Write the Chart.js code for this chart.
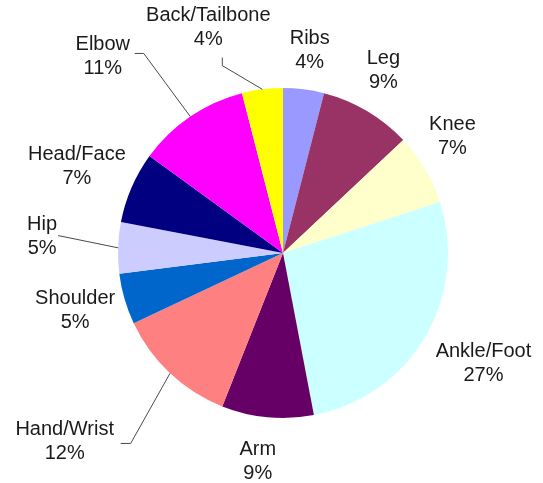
<!DOCTYPE html>
<html>
<head>
<meta charset="utf-8">
<script src="https://cdn.jsdelivr.net/npm/chart.js@4/dist/chart.umd.min.js"></script>
<style>
  html, body { margin: 0; padding: 0; background: #ffffff; }
  #wrap { width: 543px; height: 483px; position: relative; }
</style>
</head>
<body>
<div id="wrap"><canvas id="c" width="543" height="483"></canvas></div>
<script>
// ---- data ----
const categories = ["Ribs", "Leg", "Knee", "Ankle/Foot", "Arm", "Hand/Wrist", "Shoulder", "Hip", "Head/Face", "Elbow", "Back/Tailbone"];
const percentValues = [4, 9, 7, 27, 9, 12, 5, 5, 7, 11, 4];
const sliceColors = ["#9999FF", "#993366", "#FFFFCC", "#CCFFFF", "#660066", "#FF8080", "#0066CC", "#CCCCFF", "#000080", "#FF00FF", "#FFFF00"];

// ---- label layout (style only): nudge of label centre from default radial spot, optional leader points relative to label centre ----
const labelExtra = 40;
const labelNudges = [[1,1],[-4,-6],[-7,-12],[24,6],[-6,4],[-78,39],[-11,0],[-36,-10],[-18,-5],[-65,-27],[-49,-22]];
const labelLeaders = [null, null, null, null, null,
  [[56,2],[66,2]],
  null,
  [[16,-1]],
  null,
  [[32,-3],[41,-3]],
  [[14,30],[14,38]]
];

const labelPlugin = {
  id: 'outLabels',
  afterDatasetsDraw(chart) {
    const ctx = chart.ctx;
    const meta = chart.getDatasetMeta(0);
    const data = chart.data.datasets[0].data;
    ctx.save();
    ctx.font = '20px "Liberation Sans", Arial, sans-serif';
    ctx.fillStyle = '#1a1a1a';
    ctx.textAlign = 'center';
    ctx.textBaseline = 'middle';
    meta.data.forEach((arc, i) => {
      const p = arc.getProps(['x','y','startAngle','endAngle','outerRadius'], true);
      const mid = (p.startAngle + p.endAngle) / 2;
      const r = p.outerRadius;
      const cx = p.x + Math.cos(mid) * (r + labelExtra) + labelNudges[i][0];
      const cy = p.y + Math.sin(mid) * (r + labelExtra) + labelNudges[i][1];
      const lead = labelLeaders[i];
      if (lead) {
        ctx.beginPath();
        ctx.strokeStyle = '#4a4a4a';
        ctx.lineWidth = 1;
        ctx.moveTo(p.x + Math.cos(mid) * r, p.y + Math.sin(mid) * r);
        for (let k = lead.length - 1; k >= 0; k--) {
          ctx.lineTo(cx + lead[k][0], cy + lead[k][1]);
        }
        ctx.stroke();
      }
      ctx.fillText(chart.data.labels[i], cx, cy - 12);
      ctx.fillText(data[i] + '%', cx, cy + 12);
    });
    ctx.restore();
  }
};

new Chart(document.getElementById('c'), {
  type: 'pie',
  data: {
    labels: categories,
    datasets: [{
      data: percentValues,
      backgroundColor: sliceColors,
      borderWidth: 0
    }]
  },
  options: {
    responsive: false,
    animation: false,
    layout: { padding: { left: 118, right: 95, top: 88, bottom: 65 } },
    plugins: {
      legend: { display: false },
      tooltip: { enabled: false }
    }
  },
  plugins: [labelPlugin]
});
</script>
</body>
</html>
